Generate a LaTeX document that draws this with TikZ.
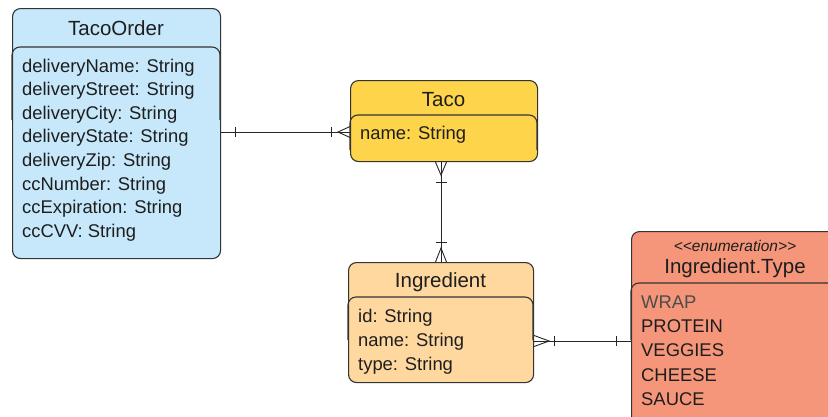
\documentclass[tikz,border=0pt]{standalone}
\usepackage{fontspec}
\setmainfont{Liberation Sans}
\usetikzlibrary{calc}
\definecolor{ordercol}{RGB}{199,232,250}
\definecolor{tacocol}{RGB}{254,212,74}
\definecolor{ingcol}{RGB}{254,216,158}
\definecolor{typecol}{RGB}{245,150,122}
\definecolor{linecol}{RGB}{51,51,51}
\definecolor{textcol}{RGB}{30,30,30}
\begin{document}
\begin{tikzpicture}[x=1pt,y=-1pt,
  box/.style={draw=linecol, line width=1.1pt, rounded corners=8pt, inner sep=0pt, anchor=north west},
  divider/.style={draw=linecol, line width=1.1pt, rounded corners=8pt},
  title/.style={font=\fontsize{20.5}{24}\selectfont, text=textcol, inner sep=0pt, anchor=base},
  stereo/.style={font=\fontsize{15.5}{18}\selectfont\itshape, text=textcol, inner sep=0pt, anchor=base},
  attr/.style={font=\fontsize{18.4}{24}\selectfont, text=textcol, inner sep=0pt, anchor=base west},
  conn/.style={draw=black!85, line width=0.9pt}
]
\useasboundingbox (0,0) rectangle (828,416);

% TacoOrder
\node[box, fill=ordercol, minimum width=208pt, minimum height=250pt] (order) at (12,8) {};
\draw[divider] (12,120) -- (12,47) -- (220,47) -- (220,120);
\node[title] (ordert) at (116,35) {TacoOrder};
\node[attr] (o1) at (22,72) {deliveryName: String};
\node[attr] (o2) at (22,95.6) {deliveryStreet: String};
\node[attr] (o3) at (22,119.2) {deliveryCity: String};
\node[attr] (o4) at (22,142.8) {deliveryState: String};
\node[attr] (o5) at (22,166.4) {deliveryZip: String};
\node[attr] (o6) at (22,190) {ccNumber: String};
\node[attr] (o7) at (22,213.6) {ccExpiration: String};
\node[attr] (o8) at (22,237.2) {ccCVV: String};

% Taco
\node[box, fill=tacocol, minimum width=187pt, minimum height=81pt] (taco) at (350,80) {};
\draw[divider] (350,150) -- (350,115) -- (537,115) -- (537,150);
\node[title] (tacot) at (443.5,106) {Taco};
\node[attr] (t1) at (360,139) {name: String};

% Ingredient
\node[box, fill=ingcol, minimum width=185pt, minimum height=120pt] (ing) at (348,262) {};
\draw[divider] (348,340) -- (348,297) -- (533,297) -- (533,340);
\node[title] (ingt) at (440.5,287) {Ingredient};
\node[attr] (i1) at (358,322) {id: String};
\node[attr] (i2) at (358,346) {name: String};
\node[attr] (i3) at (358,370) {type: String};

% Ingredient.Type
\node[box, fill=typecol, minimum width=208pt, minimum height=200pt] (type) at (631,231) {};
\draw[divider] (631,340) -- (631,283) -- (839,283) -- (839,340);
\node[stereo] (types) at (735,251) {\mbox{<}\mbox{<}enumeration\mbox{>}\mbox{>}};
\node[title] (typet) at (735,273) {Ingredient.Type};
\node[attr, text=black!70] (e1) at (641,308) {WRAP};
\node[attr] (e2) at (641,332) {PROTEIN};
\node[attr] (e3) at (641,356.5) {VEGGIES};
\node[attr] (e4) at (641,381) {CHEESE};
\node[attr] (e5) at (641,405) {SAUCE};

% TacoOrder -- Taco (one to many)
\coordinate (a) at (order.east |- 0,132);
\coordinate (b) at (taco.west |- 0,132);
\draw[conn] (a) -- (b);
\draw[conn] ($(a)+(14,-5)$) -- ($(a)+(14,5)$);
\draw[conn] ($(b)+(-19,-5)$) -- ($(b)+(-19,5)$);
\draw[conn] ($(b)+(0,-5.5)$) -- ($(b)+(-12,0)$) -- ($(b)+(0,5.5)$);

% Taco -- Ingredient (many to many)
\coordinate (c) at (441,0 |- taco.south);
\coordinate (d) at (441,0 |- ing.north);
\draw[conn] (c) -- (d);
\draw[conn] ($(c)+(-5.5,0)$) -- ($(c)+(0,13)$) -- ($(c)+(5.5,0)$);
\draw[conn] ($(c)+(-5.5,20)$) -- ($(c)+(5.5,20)$);
\draw[conn] ($(d)+(-5.5,-20)$) -- ($(d)+(5.5,-20)$);
\draw[conn] ($(d)+(-5.5,0)$) -- ($(d)+(0,-14)$) -- ($(d)+(5.5,0)$);

% Ingredient -- Ingredient.Type (many to one)
\coordinate (e) at (ing.east |- 0,341);
\coordinate (f) at (type.west |- 0,341);
\draw[conn] (e) -- (f);
\draw[conn] ($(e)+(0,-5.5)$) -- ($(e)+(15,0)$) -- ($(e)+(0,5.5)$);
\draw[conn] ($(e)+(20,-5)$) -- ($(e)+(20,5)$);
\draw[conn] ($(f)+(-15,-5)$) -- ($(f)+(-15,5)$);
\end{tikzpicture}
\end{document}
